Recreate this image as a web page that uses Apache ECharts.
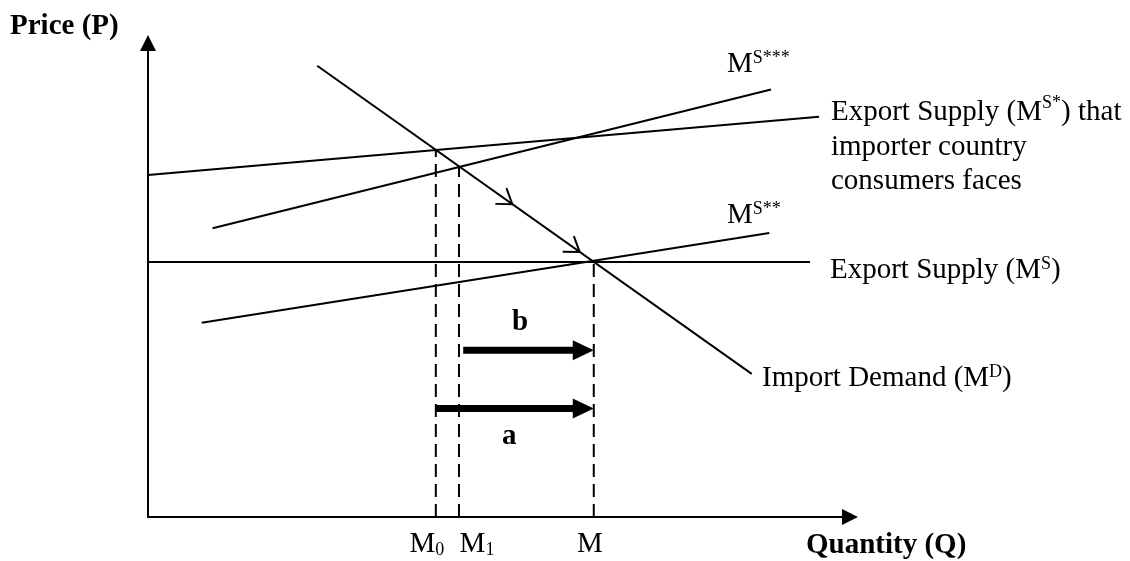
<!DOCTYPE html>
<html><head><meta charset="utf-8">
<script src="https://cdn.jsdelivr.net/npm/echarts@6/dist/echarts.min.js"></script>
<style>html,body{margin:0;padding:0;background:#fff}#c{width:1130px;height:561px}</style>
</head><body><div id="c"></div>
<script>
// ---- data (Quantity Q, Price P in arbitrary units 0..100) ----
const importDemand     = [[24.1, 95.2], [86.0, 30.2]];
const exportSupply     = [[0, 53.8], [94.3, 53.8]];
const exportSupplyStar = [[0, 72.15], [95.6, 84.45]];
const exportSupply2    = [[7.65, 41.0], [88.5, 59.9]];
const exportSupply3    = [[9.2, 60.9], [88.75, 90.2]];
const equilibriumQ     = [41.0, 44.3, 63.5];
const equilibriumP     = [77.4, 73.8, 53.8];
const qTickLabels      = ['M0', 'M1', 'M'];
const shiftFrom        = [44.9, 40.9];
const shiftTo          = [63.5, 63.5];
const shiftP           = [35.2, 22.9];
const directionMarksQ  = [51.9, 61.5];
const directionMarksP  = [66.0, 55.9];

// ---- styling ----
const tickLabelNudge = [-9, 18, -4]; // horizontal pixel nudges of the tick labels
const FF = 'Liberation Serif, Times New Roman, serif';
const rich = {
  m:  {fontFamily: FF, fontSize: 29, lineHeight: 30, color: '#000'},
  ml: {fontFamily: FF, fontSize: 29, lineHeight: 35, color: '#000'},
  s:  {fontFamily: FF, fontSize: 18, lineHeight: 21, color: '#000', verticalAlign: 'top'},
  b:  {fontFamily: FF, fontSize: 29, lineHeight: 32, color: '#000', fontWeight: 'bold'},
  d:  {fontFamily: FF, fontSize: 18, lineHeight: 20, color: '#000', verticalAlign: 'bottom'}
};
function tickText(i) {
  const t = qTickLabels[i];
  return t.length > 1 ? '{m|' + t[0] + '}{d|' + t.slice(1) + '}' : '{m|' + t + '}';
}

const lineStyle = {color: '#000', width: 2};
function curve(data) {
  return {type: 'line', data: data, symbol: 'none', silent: true, lineStyle: lineStyle, z: 3};
}
const series = [
  curve(importDemand), curve(exportSupply), curve(exportSupplyStar),
  curve(exportSupply2), curve(exportSupply3)
];
equilibriumQ.forEach((q, i) => {
  series.push({type: 'line', symbol: 'none', silent: true, z: 2,
    data: [[q, 0], [q, equilibriumP[i]]],
    lineStyle: {color: '#000', width: 2, type: [13, 7]}});
});
// tick labels M0, M1, M under the quantity axis
series.push({
  type: 'custom', silent: true, z: 5,
  data: equilibriumQ.map((q, i) => [q, 0, i]),
  renderItem: function (params, api) {
    const i = api.value(2);
    const p = api.coord([api.value(0), api.value(1)]);
    return {type: 'text', x: p[0] + tickLabelNudge[i], y: p[1] + 27,
      style: {text: tickText(i), rich: rich, align: 'center', verticalAlign: 'middle'}};
  }
});
// direction chevrons on the import demand line
series.push({
  type: 'custom', silent: true, z: 4,
  data: directionMarksQ.map((q, i) => [q, directionMarksP[i]]),
  renderItem: function (params, api) {
    const tip = api.coord([api.value(0), api.value(1)]);
    const a = api.coord(importDemand[0]), b = api.coord(importDemand[1]);
    const ang = Math.atan2(a[1] - b[1], a[0] - b[0]); // pointing back up the line
    const L = 17, sp = 0.6;
    const p1 = [tip[0] + L * Math.cos(ang - sp), tip[1] + L * Math.sin(ang - sp)];
    const p2 = [tip[0] + L * Math.cos(ang + sp), tip[1] + L * Math.sin(ang + sp)];
    return {type: 'polyline', shape: {points: [p1, tip, p2]},
      style: {stroke: '#000', lineWidth: 2, fill: null}};
  }
});
// thick shift arrows a and b
series.push({
  type: 'custom', silent: true, z: 4,
  data: shiftFrom.map((q, i) => [q, shiftTo[i], shiftP[i]]),
  renderItem: function (params, api) {
    const s = api.coord([api.value(0), api.value(2)]);
    const e = api.coord([api.value(1), api.value(2)]);
    const hl = 21, hh = 10;
    return {type: 'group', children: [
      {type: 'line', shape: {x1: s[0], y1: s[1], x2: e[0] - hl + 2, y2: e[1]},
        style: {stroke: '#000', lineWidth: 7}},
      {type: 'polygon', shape: {points: [[e[0], e[1]], [e[0] - hl, e[1] - hh], [e[0] - hl, e[1] + hh]]},
        style: {fill: '#000'}}
    ]};
  }
});

function txt(x, y, text) {
  return {type: 'text', x: x, y: y, silent: true,
    style: {text: text, rich: rich, align: 'left', verticalAlign: 'middle'}};
}

const chart = echarts.init(document.getElementById('c'), null, {renderer: 'canvas'});
chart.setOption({
  animation: false,
  backgroundColor: '#fff',
  grid: {left: 148, right: 280, top: 43, bottom: 44},
  xAxis: {
    type: 'value', min: 0, max: 100,
    axisLine: {onZero: false, symbol: ['none', 'triangle'], symbolSize: [16, 16], lineStyle: {color: '#000', width: 2}},
    axisTick: {show: false},
    splitLine: {show: false},
    axisLabel: {show: false}
  },
  yAxis: {
    type: 'value', min: 0, max: 100,
    axisLine: {show: true, onZero: false, symbol: ['none', 'triangle'], symbolSize: [16, 16], lineStyle: {color: '#000', width: 2}},
    axisTick: {show: false},
    splitLine: {show: false},
    axisLabel: {show: false}
  },
  graphic: [
    txt(10, 27, '{b|Price (P)}'),
    txt(806, 546, '{b|Quantity (Q)}'),
    txt(727, 64, '{m|M}{s|S***}'),
    txt(727, 215, '{m|M}{s|S**}'),
    txt(831, 112, '{ml|Export Supply (M}{s|S*}{ml|) that}'),
    txt(831, 147, '{ml|importer country}'),
    txt(831, 181, '{ml|consumers faces}'),
    txt(830, 270, '{m|Export Supply (M}{s|S}{m|)}'),
    txt(762, 378, '{m|Import Demand (M}{s|D}{m|)}'),
    txt(512, 323, '{b|b}'),
    txt(502, 437, '{b|a}')
  ],
  series: series
});
</script>
</body></html>
